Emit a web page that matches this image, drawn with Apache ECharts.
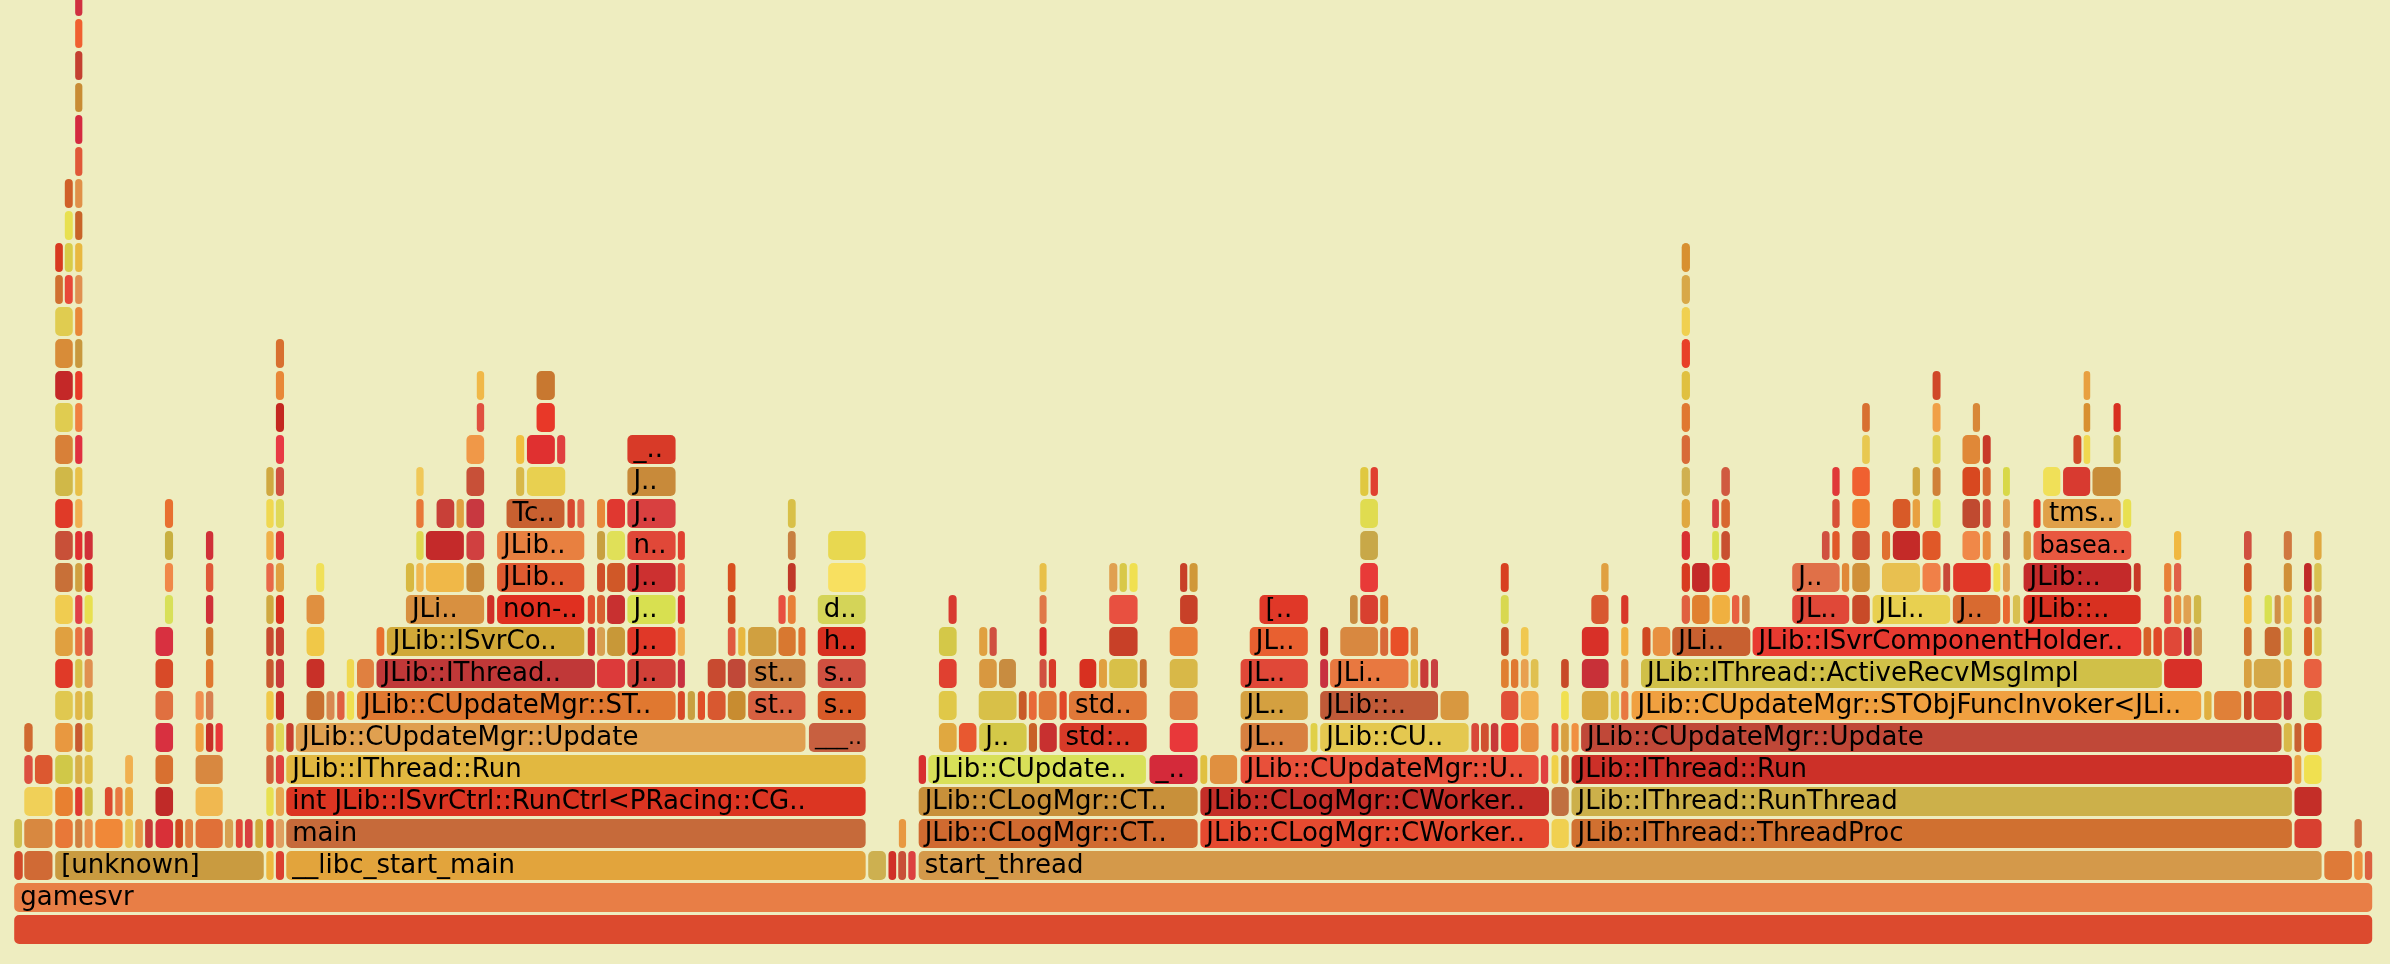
<!DOCTYPE html>
<html>
<head>
<meta charset="utf-8">
<script src="https://cdn.jsdelivr.net/npm/echarts@6/dist/echarts.min.js"></script>
<style>
html, body { margin: 0; padding: 0; background: #eeedc0; }
#chart { width: 2390px; height: 964px; }
</style>
</head>
<body>
<div id="chart"></div>
<script>
// flame graph of gamesvr: one list per stack depth, [startSample, endSample, label]
const totalSamples = 1548;
const rows = [
  /* 0 */ [[0, 1548, '']],
  /* 1 */ [[0, 1548, 'gamesvr']],
  /* 2 */ [[0, 6.6, ''], [6.6, 26.1, ''], [26.9, 164.7, '[unknown]'], [165.4, 171.2, ''], [171.7, 178, ''], [178.5, 559.6, '__libc_start_main'], [560.3, 572.9, ''], [573.6, 579.6, ''], [580, 586.1, ''], [586.6, 592.4, ''], [593.4, 1514.8, 'start_thread'], [1515.6, 1534.7, ''], [1535.2, 1541.7, ''], [1542.2, 1548, '']],
  /* 3 */ [[0, 6.1, ''], [6.6, 26.1, ''], [26.9, 39.4, ''], [40, 45.7, ''], [46.2, 52.5, ''], [53.2, 72.1, ''], [72.8, 78.9, ''], [79.4, 85.4, ''], [85.9, 91.9, ''], [92.7, 105.2, ''], [105.7, 111.7, ''], [112.2, 118.3, ''], [119, 137.8, ''], [138.3, 144.6, ''], [145.4, 150.9, ''], [151.4, 157.4, ''], [158.2, 164.2, ''], [165.4, 171.2, ''], [171.7, 178, ''], [178.5, 559.6, 'main'], [580.4, 586.1, ''], [593.4, 777.4, 'JLib::CLogMgr::CT..'], [778.2, 1007.9, 'JLib::CLogMgr::CWorker..'], [1008.6, 1020.9, ''], [1021.7, 1495.3, 'JLib::IThread::ThreadProc'], [1496, 1514.8, ''], [1535.4, 1541.2, '']],
  /* 4 */ [[6.6, 26.1, ''], [26.9, 39.4, ''], [40, 45.7, ''], [46.2, 52.5, ''], [59.5, 65.5, ''], [66.3, 72.1, ''], [72.8, 78.9, ''], [92.7, 105.2, ''], [119, 137.8, ''], [165.4, 171.2, ''], [171.7, 178, ''], [178.5, 559.6, 'int JLib::ISvrCtrl::RunCtrl<PRacing::CG..'], [593.4, 777.4, 'JLib::CLogMgr::CT..'], [778.2, 1007.9, 'JLib::CLogMgr::CWorker..'], [1008.6, 1020.9, ''], [1021.7, 1495.3, 'JLib::IThread::RunThread'], [1496, 1514.8, '']],
  /* 5 */ [[6.6, 13.1, ''], [13.6, 26.1, ''], [26.9, 39.4, ''], [40, 45.7, ''], [46.2, 52.5, ''], [72.8, 78.9, ''], [92.7, 105.2, ''], [119, 137.8, ''], [165.4, 171.2, ''], [171.7, 178, ''], [178.5, 559.6, 'JLib::IThread::Run'], [593.4, 599.2, ''], [599.7, 743.5, 'JLib::CUpdate..'], [744.8, 777.4, '_..'], [778.2, 783.7, ''], [784.5, 803.3, ''], [804.6, 1001.1, 'JLib::CUpdateMgr::U..'], [1001.6, 1007.4, ''], [1008.6, 1014.1, ''], [1014.9, 1020.9, ''], [1021.7, 1495.3, 'JLib::IThread::Run'], [1496, 1501.5, ''], [1502.3, 1514.8, '']],
  /* 6 */ [[6.6, 13.1, ''], [26.9, 39.4, ''], [40, 45.7, ''], [46.2, 52.5, ''], [92.7, 105.2, ''], [119, 125.3, ''], [125.8, 131.6, ''], [132.1, 137.8, ''], [165.4, 171.2, ''], [171.7, 178, ''], [178.5, 184.3, ''], [184.8, 520.1, 'JLib::CUpdateMgr::Update'], [521.4, 559.6, '___..'], [606.7, 619.3, ''], [619.8, 632.3, ''], [633.1, 665.2, 'J..'], [665.7, 672, ''], [672.7, 685, ''], [685.8, 744, 'std:..'], [758.1, 777.4, ''], [804.6, 849.7, 'JL..'], [850.5, 856, ''], [856.8, 955.2, 'JLib::CU..'], [956, 962, ''], [962.3, 968.4, ''], [968.8, 974.7, ''], [975.5, 987.8, ''], [988.5, 1001.1, ''], [1008.6, 1014.1, ''], [1014.9, 1020.9, ''], [1021.7, 1027.4, ''], [1028, 1488.5, 'JLib::CUpdateMgr::Update'], [1489, 1495.3, ''], [1496, 1501.5, ''], [1502.3, 1514.8, '']],
  /* 7 */ [[26.9, 39.4, ''], [40, 45.7, ''], [46.2, 52.5, ''], [92.7, 105.2, ''], [119, 125.3, ''], [125.8, 131.6, ''], [165.4, 171.2, ''], [171.7, 178, ''], [191.8, 204.4, ''], [204.9, 211.1, ''], [211.9, 217.7, ''], [218.2, 224, ''], [224.9, 434.9, 'JLib::CUpdateMgr::ST..'], [435.4, 441, ''], [441.9, 447.6, ''], [448.5, 454.2, ''], [455, 467.7, ''], [468.2, 480.8, ''], [481.5, 520.1, 'st..'], [527.2, 559.6, 's..'], [606.6, 619.3, ''], [632.8, 658.6, ''], [659.1, 665.2, ''], [665.7, 671.8, ''], [672.2, 684.9, ''], [685.8, 691.5, ''], [692, 744, 'std..'], [758.1, 777.4, ''], [804.6, 849.7, 'JL..'], [856.8, 935.1, 'JLib::..'], [935.8, 955.2, ''], [975.5, 987.8, ''], [988.5, 1001.1, ''], [1014.9, 1020.9, ''], [1028.5, 1046.8, ''], [1047.5, 1053.8, ''], [1054.3, 1060, ''], [1061.1, 1435.8, 'JLib::CUpdateMgr::STObjFuncInvoker<JLi..'], [1436.8, 1442.6, ''], [1443.3, 1462.1, ''], [1462.9, 1468.9, ''], [1469.4, 1488.5, ''], [1489, 1495.3, ''], [1502.3, 1514.8, '']],
  /* 8 */ [[26.9, 39.4, ''], [40, 45.7, ''], [46.2, 52.5, ''], [92.7, 105.2, ''], [125.8, 131.6, ''], [165.4, 171.2, ''], [171.7, 178, ''], [191.8, 204.4, ''], [218.2, 224, ''], [224.9, 237, ''], [237.7, 382, 'JLib::IThread..'], [382.4, 401.7, ''], [402.3, 434.9, 'J..'], [435.4, 441, ''], [455, 467.7, ''], [468.2, 480.8, ''], [481.5, 520.1, 'st..'], [527.2, 559.6, 's..'], [606.7, 619.3, ''], [633.1, 645.6, ''], [646.1, 658.2, ''], [672.7, 678.3, ''], [678.8, 684.5, ''], [698.9, 710.9, ''], [711.7, 717.9, ''], [718.4, 738, ''], [738.5, 744, ''], [758.1, 777.4, ''], [804.6, 849.7, 'JL..'], [856.8, 863, ''], [863.3, 915.7, 'JLi..'], [916.2, 922, ''], [922.5, 928.8, ''], [929.5, 935.1, ''], [975.5, 981.5, ''], [982, 987.8, ''], [988.5, 994.5, ''], [995, 1001, ''], [1014.9, 1020.9, ''], [1028.5, 1047, ''], [1054.3, 1060, ''], [1067.3, 1410, 'JLib::IThread::ActiveRecvMsgImpl'], [1410.5, 1436.3, ''], [1462.9, 1468.9, ''], [1469.4, 1488, ''], [1489, 1495.3, ''], [1502.3, 1514.8, '']],
  /* 9 */ [[26.9, 39.4, ''], [40, 45.7, ''], [46.2, 52.5, ''], [92.7, 105.2, ''], [125.8, 131.6, ''], [165.4, 171.2, ''], [171.7, 178, ''], [191.8, 204.4, ''], [237.7, 243.8, ''], [244.5, 375, 'JLib::ISvrCo..'], [376.3, 382, ''], [382.4, 388.6, ''], [389, 401.7, ''], [402.3, 434.9, 'J..'], [435.4, 441, ''], [468.2, 474.2, ''], [475, 480.7, ''], [481.5, 501, ''], [501.4, 513.7, ''], [514.5, 520.1, ''], [527.2, 559.6, 'h..'], [606.7, 619.3, ''], [633.1, 639.4, ''], [639.9, 645.6, ''], [672.7, 678.3, ''], [718.4, 738, ''], [758.1, 777.4, ''], [810.6, 849.7, 'JL..'], [856.8, 863, ''], [870, 895.7, ''], [896.2, 902.4, ''], [903, 915.7, ''], [916.2, 922, ''], [975.5, 981.5, ''], [988.5, 994.5, ''], [1028.5, 1047, ''], [1054.3, 1060, ''], [1068.2, 1074.5, ''], [1075, 1087.5, ''], [1087.8, 1140, 'JLi..'], [1140.5, 1396.5, 'JLib::ISvrComponentHolder..'], [1397, 1403, ''], [1403.5, 1410, ''], [1410.5, 1423, ''], [1423.5, 1429.5, ''], [1430, 1436.3, ''], [1462.9, 1468.9, ''], [1476.5, 1488, ''], [1489, 1495.3, ''], [1502.3, 1508.5, ''], [1509, 1514.8, '']],
  /* 10 */ [[26.9, 39.4, ''], [40, 45.7, ''], [46.2, 52.5, ''], [98.9, 105.2, ''], [125.8, 131.6, ''], [165.4, 171.2, ''], [171.7, 178, ''], [191.8, 204.4, ''], [257, 309.3, 'JLi..'], [310.3, 316, ''], [316.8, 375, 'non-..'], [376.3, 382, ''], [382.4, 388.6, ''], [389, 401.7, ''], [402.3, 434.9, 'J..'], [435.4, 441, ''], [468.2, 474.2, ''], [501.4, 507.1, ''], [507.6, 513.7, ''], [527.2, 559.6, 'd..'], [613, 619.3, ''], [672.7, 678.3, ''], [718.4, 738, ''], [764.9, 777.4, ''], [817, 849.7, '[..'], [876.4, 882.4, ''], [883.1, 895.7, ''], [896.2, 902.4, ''], [975.3, 981.5, ''], [1034.7, 1047, ''], [1054.3, 1060, ''], [1094, 1100.4, ''], [1100.8, 1113.3, ''], [1114, 1126.6, ''], [1127, 1132.8, ''], [1133.6, 1139.6, ''], [1166.5, 1204.9, 'JL..'], [1205.9, 1218.4, ''], [1219.2, 1271.1, 'JLi..'], [1271.9, 1304, 'J..'], [1304.8, 1310.3, ''], [1311.3, 1317, ''], [1318.3, 1396.1, 'JLib::..'], [1410.5, 1416.2, ''], [1417, 1422.7, ''], [1423.2, 1429.2, ''], [1430, 1435.8, ''], [1462.9, 1468.9, ''], [1476.4, 1482.2, ''], [1483, 1488, ''], [1489, 1495.3, ''], [1502.3, 1508.3, ''], [1509, 1514.8, '']],
  /* 11 */ [[26.9, 39.4, ''], [40, 45.7, ''], [46.2, 52.5, ''], [98.9, 105.2, ''], [125.8, 131.6, ''], [165.4, 171.2, ''], [171.7, 178, ''], [198.1, 204.4, ''], [257, 263.3, ''], [263.8, 269.6, ''], [270.1, 296, ''], [296.7, 309.3, ''], [316.8, 375, 'JLib..'], [382.4, 388.6, ''], [389, 401.7, ''], [402.3, 434.9, 'J..'], [435.4, 441, ''], [468.2, 474.2, ''], [507.6, 513.7, ''], [534, 559.6, ''], [672.7, 678.3, ''], [718.4, 724.7, ''], [725.2, 731, ''], [731.7, 738, ''], [764.9, 770.6, ''], [771.1, 777.4, ''], [883.1, 895.7, ''], [975.3, 981.5, ''], [1041.2, 1047, ''], [1094, 1100.4, ''], [1100.8, 1113.3, ''], [1114, 1126.6, ''], [1166.5, 1198.6, 'J..'], [1199.1, 1204.9, ''], [1205.9, 1218.4, ''], [1225.4, 1251.3, ''], [1252, 1264.8, ''], [1265.6, 1271.1, ''], [1272.1, 1297.7, ''], [1298.5, 1304, ''], [1304.8, 1310.3, ''], [1318.3, 1389.9, 'JLib:..'], [1390.6, 1396.1, ''], [1410.5, 1416.2, ''], [1417, 1422.7, ''], [1462.9, 1468.9, ''], [1489, 1495.3, ''], [1502.3, 1508.3, ''], [1509, 1514.8, '']],
  /* 12 */ [[26.9, 39.4, ''], [40, 45.7, ''], [46.2, 52.5, ''], [98.9, 105.2, ''], [125.8, 131.6, ''], [165.4, 171.2, ''], [171.7, 178, ''], [263.8, 269.6, ''], [270.1, 296, ''], [296.7, 309.3, ''], [316.8, 375, 'JLib..'], [382.4, 388.6, ''], [389, 401.7, ''], [402.3, 434.9, 'n..'], [435.4, 441, ''], [507.6, 513.7, ''], [534, 559.6, ''], [883.1, 895.7, ''], [1094, 1100.4, ''], [1114, 1119.4, ''], [1120, 1126.6, ''], [1186, 1192, ''], [1192.8, 1198.6, ''], [1205.9, 1218.4, ''], [1225.4, 1231.7, ''], [1232.5, 1251.3, ''], [1252, 1264.8, ''], [1278.2, 1290.7, ''], [1291.5, 1297.7, ''], [1304.8, 1310.3, ''], [1318.3, 1324.1, ''], [1324.8, 1389.9, 'basea..'], [1417, 1422.7, ''], [1462.9, 1468.9, ''], [1489, 1495.3, ''], [1509, 1514.8, '']],
  /* 13 */ [[26.9, 39.4, ''], [40, 45.7, ''], [98.9, 105.2, ''], [165.4, 171.2, ''], [171.7, 178, ''], [263.8, 269.6, ''], [277.1, 289.7, ''], [290.2, 296, ''], [296.7, 309.3, ''], [323, 362, 'Tc..'], [363, 368.8, ''], [369.5, 375, ''], [382.4, 388.6, ''], [389, 401.7, ''], [402.3, 434.9, 'J..'], [507.6, 513.7, ''], [883.1, 895.7, ''], [1094, 1100.4, ''], [1114, 1119.4, ''], [1120, 1126.6, ''], [1192.8, 1198.6, ''], [1205.9, 1218.4, ''], [1232.5, 1245, ''], [1245.5, 1251.3, ''], [1258.6, 1264.8, ''], [1278.2, 1290.7, ''], [1291.5, 1297.7, ''], [1304.8, 1310.3, ''], [1324.8, 1330.4, ''], [1331.1, 1383, 'tms..'], [1383.6, 1389.9, '']],
  /* 14 */ [[26.9, 39.4, ''], [40, 45.7, ''], [165.4, 171.2, ''], [171.7, 178, ''], [263.8, 269.6, ''], [296.7, 309.3, ''], [329.3, 335.6, ''], [336.4, 362.5, ''], [402.3, 434.9, 'J..'], [883.1, 889.4, ''], [889.9, 895.7, ''], [1094, 1100.4, ''], [1120, 1126.6, ''], [1192.8, 1198.6, ''], [1205.9, 1218.4, ''], [1245.5, 1251.3, ''], [1258.6, 1264.8, ''], [1278.2, 1290.7, ''], [1291.5, 1297.7, ''], [1304.8, 1310.3, ''], [1331.1, 1343.4, ''], [1344.2, 1363, ''], [1363.5, 1383, '']],
  /* 15 */ [[26.9, 39.4, ''], [40, 45.7, ''], [171.7, 178, ''], [296.7, 309.3, ''], [329.3, 335.6, ''], [336.4, 355.7, ''], [356.2, 362.5, ''], [402.3, 434.9, '_..'], [1094, 1100.4, ''], [1212.4, 1218.4, ''], [1258.6, 1264.8, ''], [1278.2, 1290.7, ''], [1291.5, 1297.7, ''], [1351, 1357.2, ''], [1357.7, 1363, ''], [1377.3, 1383, '']],
  /* 16 */ [[26.9, 39.4, ''], [40, 45.7, ''], [171.7, 178, ''], [303.5, 309.3, ''], [342.7, 355.7, ''], [1094, 1100.4, ''], [1212.4, 1218.4, ''], [1258.6, 1264.8, ''], [1285, 1290.7, ''], [1357.7, 1363, ''], [1377.3, 1383, '']],
  /* 17 */ [[26.9, 39.4, ''], [40, 45.7, ''], [171.7, 178, ''], [303.5, 309.3, ''], [342.7, 355.7, ''], [1094, 1100.4, ''], [1258.6, 1264.8, ''], [1357.7, 1363, '']],
  /* 18 */ [[26.9, 39.4, ''], [40, 45.7, ''], [171.7, 178, ''], [1094, 1100.4, '']],
  /* 19 */ [[26.9, 39.4, ''], [40, 45.7, ''], [1094, 1100.4, '']],
  /* 20 */ [[26.9, 32.9, ''], [33.2, 39.4, ''], [40, 45.7, ''], [1094, 1100.4, '']],
  /* 21 */ [[26.9, 32.9, ''], [33.2, 39.4, ''], [40, 45.7, ''], [1094, 1100.4, '']],
  /* 22 */ [[33.2, 39.4, ''], [40, 45.7, '']],
  /* 23 */ [[33.2, 39.4, ''], [40, 45.7, '']],
  /* 24 */ [[40, 45.7, '']],
  /* 25 */ [[40, 45.7, '']],
  /* 26 */ [[40, 45.7, '']],
  /* 27 */ [[40, 45.7, '']],
  /* 28 */ [[40, 45.7, '']],
  /* 29 */ [[40, 45.7, '']]
];

// fill colours, same order as rows
const rowColors = [
  ['#dc4a2e'],
  ['#e87e46'],
  ['#d24a2a', '#d06a35', '#c99b40', '#eeb840', '#dc4030', '#e2a43c', '#cdb050', '#d03028', '#c85038', '#dc4040', '#d4994a', '#de7a38', '#ec9040', '#dc6040'],
  ['#d0c050', '#d88840', '#e87838', '#d08040', '#e8904a', '#f08838', '#e8c858', '#e89848', '#c83a38', '#d83038', '#d04820', '#e08040', '#e07038', '#d8a050', '#e04838', '#d84040', '#d0a838', '#e04030', '#e0a060', '#c66a3a', '#e89840', '#d06a30', '#e54a30', '#f0d050', '#d07030', '#d84030', '#d07040'],
  ['#f0d058', '#e88030', '#e03a30', '#d0c048', '#dc4a30', '#e87840', '#e8a840', '#c02a28', '#f0b850', '#e8e050', '#e8a850', '#dc3522', '#c8903a', '#c42e28', '#c07040', '#ccb04a', '#c42e28'],
  ['#dc5040', '#dc5830', '#d0c848', '#d8b048', '#e0c048', '#f0b050', '#d87030', '#d88840', '#d06038', '#e04040', '#e2b840', '#d83030', '#d8e058', '#d42a3a', '#e0c040', '#e09040', '#e8503a', '#e04040', '#f0d048', '#c86030', '#cc3028', '#e8a040', '#f0e050'],
  ['#d06a30', '#e89840', '#c85a30', '#e0c048', '#d83040', '#f0a040', '#c83028', '#e83838', '#e08040', '#e0d858', '#c84030', '#e0a050', '#c86040', '#e0a840', '#e85830', '#d4c848', '#c86028', '#c83030', '#d83a28', '#e8383a', '#d88040', '#e0d048', '#e4c850', '#d84838', '#d05030', '#c83838', '#e84030', '#e89040', '#e04838', '#d8a040', '#f09040', '#c04838', '#d8b848', '#c86030', '#e04828'],
  ['#e0c850', '#e0b848', '#d8c048', '#e07040', '#f09050', '#d88050', '#f0c848', '#c83028', '#c87030', '#d88850', '#e06040', '#f0e050', '#e07830', '#d84828', '#c8a040', '#e05028', '#d85830', '#c88c30', '#d86040', '#d85a28', '#e0c848', '#d8c048', '#c85a28', '#e86838', '#e07838', '#e04828', '#e07838', '#e08040', '#d4a040', '#c05a38', '#d89840', '#e05038', '#f0b050', '#f0e050', '#d8a840', '#e0d050', '#e87840', '#f0a040', '#e0b040', '#e08038', '#c84a28', '#d84a30', '#c83a38', '#d8d050'],
  ['#e03a28', '#d8c048', '#e09050', '#d84a28', '#e07830', '#c85830', '#c83a38', '#c83028', '#f0d850', '#e08040', '#c03838', '#dc3a3a', '#d04038', '#c83040', '#c84a30', '#c04838', '#c88040', '#d05040', '#e04030', '#d89840', '#c88c40', '#d05040', '#d83a28', '#d83020', '#e0a040', '#d8c048', '#c87030', '#d8b848', '#e04838', '#c83040', '#e87840', '#e0c048', '#c83a38', '#c84040', '#e08030', '#e07830', '#e8a050', '#e0c050', '#c84a28', '#c83038', '#e09040', '#d0c048', '#d83028', '#d8a040', '#d4a848', '#e0b040', '#e86040'],
  ['#e0a040', '#e87040', '#d84a40', '#d83040', '#d08030', '#c84a30', '#c84030', '#f0c848', '#e87030', '#d0a838', '#d03030', '#d8a050', '#c89838', '#e03828', '#f0b050', '#e05a40', '#e8b840', '#d0a040', '#d87830', '#e07030', '#d83020', '#d4c848', '#e0a040', '#d05040', '#d83028', '#c84028', '#e88038', '#e86030', '#c83028', '#d88840', '#d86838', '#e85028', '#d89040', '#c85028', '#f0c850', '#d83028', '#f0b040', '#d04820', '#e89040', '#c86030', '#e83a30', '#d86028', '#e04828', '#e04838', '#c82838', '#d09048', '#d07030', '#c86830', '#d8d050', '#d86028', '#d8c850'],
  ['#f0cc50', '#e04048', '#e8e050', '#d8e058', '#d03038', '#d0a840', '#d83020', '#e09040', '#d89040', '#d03028', '#e03020', '#e05030', '#d86030', '#c83030', '#d8e050', '#d83030', '#d05020', '#e85040', '#e88038', '#d4d458', '#d83a30', '#e07848', '#e85040', '#c84028', '#e03828', '#c88c40', '#d84030', '#d88030', '#d8d850', '#d85830', '#d83828', '#e06040', '#e08030', '#f0b040', '#e86040', '#d08040', '#e04838', '#c84a28', '#e8d050', '#d86a30', '#e86830', '#d8c050', '#d83020', '#e05040', '#e89040', '#e0a050', '#d0b848', '#f0c040', '#d8e050', '#d09048', '#e8d050', '#e86040', '#c87840'],
  ['#c87038', '#d0a040', '#d83028', '#f08848', '#e05838', '#e86848', '#e0a040', '#f0e058', '#d8b840', '#f0b850', '#f0b848', '#c88838', '#e05a30', '#d05028', '#d05828', '#cc3030', '#e86040', '#d85020', '#c03828', '#f8e060', '#e8c048', '#e0a050', '#d8c848', '#f0e050', '#c84028', '#d09838', '#e83a38', '#d84020', '#e0a040', '#d83a20', '#c42a28', '#e03828', '#e07048', '#e08838', '#d09038', '#e8c050', '#f08048', '#c84838', '#e03828', '#f0e050', '#e0a050', '#c42a2a', '#c83a28', '#e88038', '#e06048', '#d05a28', '#d09038', '#c02a28', '#d8c050'],
  ['#c85038', '#e03030', '#d03038', '#c8b040', '#d03038', '#f0b048', '#e04038', '#e0d850', '#c42a2a', '#d04040', '#e88040', '#c8a040', '#e0e058', '#e04838', '#e04030', '#c88040', '#e8d850', '#c8a848', '#d83030', '#d8e050', '#c85030', '#d05040', '#e05828', '#d05030', '#e07030', '#c42a28', '#e05828', '#f08848', '#e89040', '#c87848', '#d8a040', '#e85840', '#f0b840', '#d05040', '#d07840', '#e0a840'],
  ['#e03a28', '#f0b050', '#e87030', '#f0d850', '#e0d858', '#e87838', '#c84038', '#e0a040', '#c83840', '#c86030', '#d84830', '#e06848', '#e88838', '#e03830', '#d84040', '#d8c048', '#e0dc50', '#e0a840', '#d84040', '#d86830', '#d85038', '#f08030', '#d85a28', '#e8a040', '#e0e058', '#c04a30', '#d05038', '#e0a050', '#e03828', '#e0a048', '#e8e050'],
  ['#d0b848', '#e8c048', '#d0a840', '#d05040', '#f0c858', '#c85038', '#d8b848', '#e8d050', '#c88a3a', '#e0c840', '#e04030', '#d0b050', '#d05a40', '#e03838', '#f06030', '#d0a840', '#d08038', '#d84820', '#d86a30', '#d8d848', '#f0e058', '#d83a30', '#c88c38'],
  ['#d88038', '#e03040', '#e83a44', '#f09848', '#f0c040', '#e03030', '#e04040', '#d83a28', '#d86a38', '#e8c850', '#e0d050', '#e08838', '#c83828', '#d04828', '#f0d850', '#d0b040'],
  ['#e0cc50', '#f08040', '#c42820', '#e05040', '#e83828', '#e07830', '#d87030', '#f0a048', '#d88838', '#d89030', '#d83020'],
  ['#c42828', '#e83a28', '#e88838', '#f0b848', '#c87830', '#e0c040', '#d04828', '#e8a040'],
  ['#d88c38', '#c8983e', '#d87030', '#e84028'],
  ['#e0cc50', '#e88838', '#f0d050'],
  ['#d07030', '#e84838', '#e09050', '#d8a848'],
  ['#d83a20', '#d8cc48', '#e8b840', '#d89030'],
  ['#e8e050', '#c86428'],
  ['#d06028', '#e09048'],
  ['#e05838'],
  ['#d42a40'],
  ['#c88c34'],
  ['#c44030'],
  ['#f06030'],
  ['#d03040']
];

const frames = [];
const frameColors = [];
rows.forEach(function (row, depth) {
  row.forEach(function (f, i) {
    frames.push([depth, f[0], f[1], f[2]]);
    frameColors.push((rowColors[depth] && rowColors[depth][i]) || '#e07838');
  });
});

const chart = echarts.init(document.getElementById('chart'));

// shrink a label's font a little when it would spill out of its frame
const measureCtx = document.createElement('canvas').getContext('2d');
const fontFamily = '"DejaVu Sans"';
const baseFontSize = 26;
function fitFontSize(text, room) {
  measureCtx.font = baseFontSize + 'px ' + fontFamily;
  const tw = measureCtx.measureText(text).width;
  if (tw <= room) {
    return baseFontSize;
  }
  return Math.max(18, Math.floor(baseFontSize * room / tw));
}

function renderFrame(params, api) {
  const depth = api.value(0);
  const p0 = api.coord([api.value(1), depth]);
  const p1 = api.coord([api.value(2), depth + 1]);
  const x = p0[0] + 0.5;
  const w = Math.max(p1[0] - p0[0] - 1.5, 1);
  const y = p1[1] + 3;
  const h = p0[1] - y;
  const label = frames[params.dataIndex][3];
  const children = [{
    type: 'rect',
    shape: { x: x, y: y, width: w, height: h, r: Math.min(5, w / 2) },
    style: { fill: frameColors[params.dataIndex] }
  }];
  if (label && w > 20) {
    const size = fitFontSize(label, w - 9);
    children.push({
      type: 'text',
      x: x + 6,
      y: y + h / 2 + 1,
      style: {
        text: label,
        font: size + 'px ' + fontFamily,
        fill: '#000',
        verticalAlign: 'middle'
      }
    });
  }
  return { type: 'group', children: children };
}

chart.setOption({
  backgroundColor: '#eeedc0',
  animation: false,
  grid: { left: 13.7, right: 16.8, top: 0, bottom: 20 },
  xAxis: { type: 'value', min: 0, max: totalSamples, show: false },
  yAxis: { type: 'value', min: 0, max: 29.5, show: false },
  series: [{
    type: 'custom',
    silent: true,
    clip: false,
    encode: { x: [1, 2], y: 0 },
    renderItem: renderFrame,
    data: frames.map(function (f) { return [f[0], f[1], f[2]]; })
  }]
});
</script>
</body>
</html>
